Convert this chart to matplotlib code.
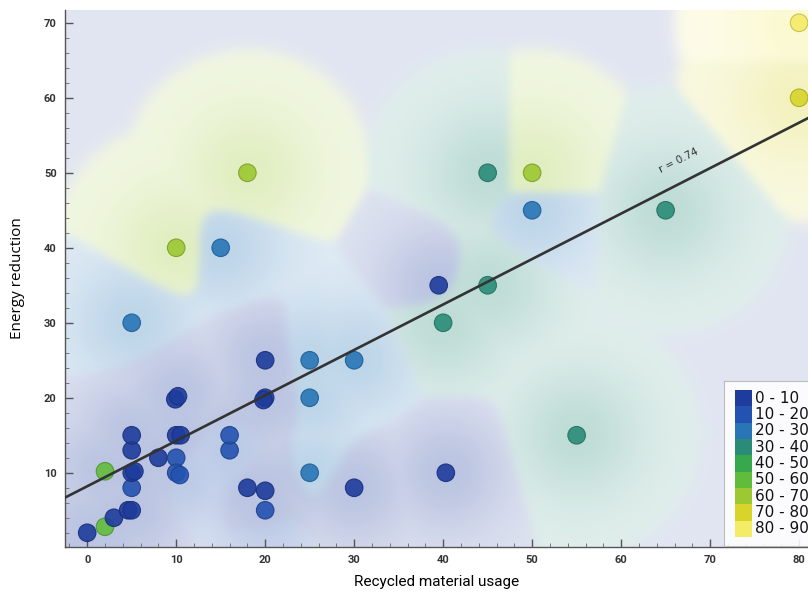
import numpy as np
import matplotlib.pyplot as plt
from matplotlib.colors import to_rgb

# data
recycled = [0, 2, 2, 3, 4.6, 5, 5, 5, 5.3, 5, 5, 8, 9.9, 10.2, 10, 10.5, 10, 10, 10.4,
            16, 16, 18, 20, 19.8, 20, 20, 20, 25, 25, 25, 30, 30, 40.3, 5, 15, 10, 18,
            39.5, 45, 40, 45, 50, 50, 65, 55, 80, 80]
energy = [2, 2.8, 10.2, 4, 5, 5, 8, 10, 10.2, 13, 15, 12, 19.8, 20.2, 15, 15, 12, 10, 9.7,
          13, 15, 8, 20, 19.7, 25, 7.6, 5, 25, 20, 10, 25, 8, 10, 30, 40, 40, 50,
          35, 35, 30, 50, 50, 45, 45, 15, 70, 60]
score = [5, 55, 55, 5, 8, 6, 12, 6, 7, 9, 8, 7, 8, 9, 9, 8, 15, 12, 13,
         14, 15, 7, 8, 9, 9, 8, 15, 25, 24, 26, 25, 9, 8, 24, 22, 65, 65,
         5, 35, 35, 35, 65, 25, 35, 35, 85, 75]

bin_labels = ['0 - 10', '10 - 20', '20 - 30', '30 - 40', '40 - 50',
              '50 - 60', '60 - 70', '70 - 80', '80 - 90']
bin_colors = ['#1e3c9c', '#2452b0', '#2876b6', '#2a8c78', '#38a84c',
              '#62bc3c', '#9cc832', '#d8d42a', '#f4ec66']

fit_slope = 0.606
fit_intercept = 8.2
fit_r = 0.74

x_min, x_max = -2.5, 81.0
y_min, y_max = 0.1, 71.7

fig = plt.figure(figsize=(8.08, 5.94), dpi=100)
ax = fig.add_axes([0.0804, 0.0791, 0.9196, 0.904])
ax.set_xlim(x_min, x_max)
ax.set_ylim(y_min, y_max)

## background field: nearest-bin regions fading with distance (pixel units)
sx = 743 / (x_max - x_min)
sy = 537 / (y_max - y_min)
gx = np.linspace(x_min, x_max, 420)
gy = np.linspace(y_min, y_max, 300)
GX, GY = np.meshgrid(gx, gy)
bins = np.array(score) // 10
dens = np.zeros((9,) + GX.shape)
dnear = np.full(GX.shape, 1e9)
for xi, yi, b in zip(recycled, energy, bins):
    d2 = ((GX - xi) * sx) ** 2 + ((GY - yi) * sy) ** 2
    dens[b] += np.exp(-d2 / (2 * 30.0 ** 2))
    dnear = np.minimum(dnear, np.sqrt(d2))
win = dens.argmax(0)
cols = np.array([to_rgb(c) for c in bin_colors])
inside = 1 / (1 + np.exp((dnear - 125) / 3.0))
a_in = 0.145 + 0.16 * np.exp(-dnear ** 2 / (2 * 45.0 ** 2))
a = 0.13 * (1 - inside) + a_in * inside
colr = cols[0] * (1 - inside[..., None]) + cols[win] * inside[..., None]
img = 1 - a[..., None] * (1 - colr)

# light blur so borders are soft
k = np.exp(-np.arange(-8, 9) ** 2 / (2 * 2.5 ** 2))
k /= k.sum()
for c in range(3):
    ch = np.pad(img[..., c], 8, mode='edge')
    ch = np.apply_along_axis(lambda r: np.convolve(r, k, mode='same'), 1, ch)
    ch = np.apply_along_axis(lambda r: np.convolve(r, k, mode='same'), 0, ch)
    img[..., c] = ch[8:-8, 8:-8]
ax.imshow(img, extent=[x_min, x_max, y_min, y_max], origin='lower',
          aspect='auto', interpolation='bilinear', zorder=0)

## points
pcol = [bin_colors[b] for b in bins]
ecol = [tuple(v * 0.8 for v in to_rgb(c)) for c in pcol]
ax.scatter(recycled, energy, s=160, c=pcol, edgecolors=ecol, linewidths=0.8,
           alpha=0.9, zorder=3)

## trend line
lx = np.array([x_min, x_max])
ax.plot(lx, fit_intercept + fit_slope * lx, color='#333333', lw=1.9, zorder=4)
ax.text(66.5, 51.6, 'r = %.2f' % fit_r, rotation=27, fontsize=7.5, color='#333333',
        ha='center', va='center', zorder=5)

## axes styling
for sp in ['top', 'right']:
    ax.spines[sp].set_visible(False)
for sp in ['left', 'bottom']:
    ax.spines[sp].set_color('#555555')
    ax.spines[sp].set_linewidth(1.0)
ax.set_xticks(range(0, 81, 10))
ax.set_yticks(range(10, 71, 10))
ax.set_xticks(np.arange(-2, 81, 2), minor=True)
ax.set_yticks(np.arange(2, 72, 2), minor=True)
ax.tick_params(which='major', direction='in', length=5.5, width=1.0, color='#555555',
               labelsize=8, labelcolor='#333333', pad=6)
ax.tick_params(which='minor', direction='in', length=3, width=0.7, color='#777777')
for lab in ax.get_xticklabels() + ax.get_yticklabels():
    lab.set_fontfamily('Roboto')
    lab.set_fontweight('bold')
ax.set_xlabel('Recycled material usage', fontsize=11, family='Roboto')
ax.set_ylabel('Energy reduction', fontsize=11, family='Open Sans')
ax.xaxis.set_label_coords(0.5, -0.052)
ax.yaxis.set_label_coords(-0.054, 0.5)

## legend box
lg = fig.add_axes([724 / 808, 48 / 594, 90 / 808, 165 / 594])
lg.set_xlim(0, 1)
lg.set_ylim(0, 1)
lg.set_facecolor((1, 1, 1, 0.88))
for sp in lg.spines.values():
    sp.set_color('#bbbbbb')
lg.set_xticks([])
lg.set_yticks([])
row_h = 0.89 / len(bin_labels)
for i, (lab, c) in enumerate(zip(bin_labels, bin_colors)):
    yb = 0.945 - (i + 1) * row_h
    lg.bar(0.123, row_h, width=0.19, bottom=yb, align='edge', color=c, lw=0)
    lg.text(0.34, yb + row_h / 2, lab, fontsize=11, va='center', ha='left',
            family='DejaVu Sans', color='#111111')

fig.savefig('out.png', dpi=100)
